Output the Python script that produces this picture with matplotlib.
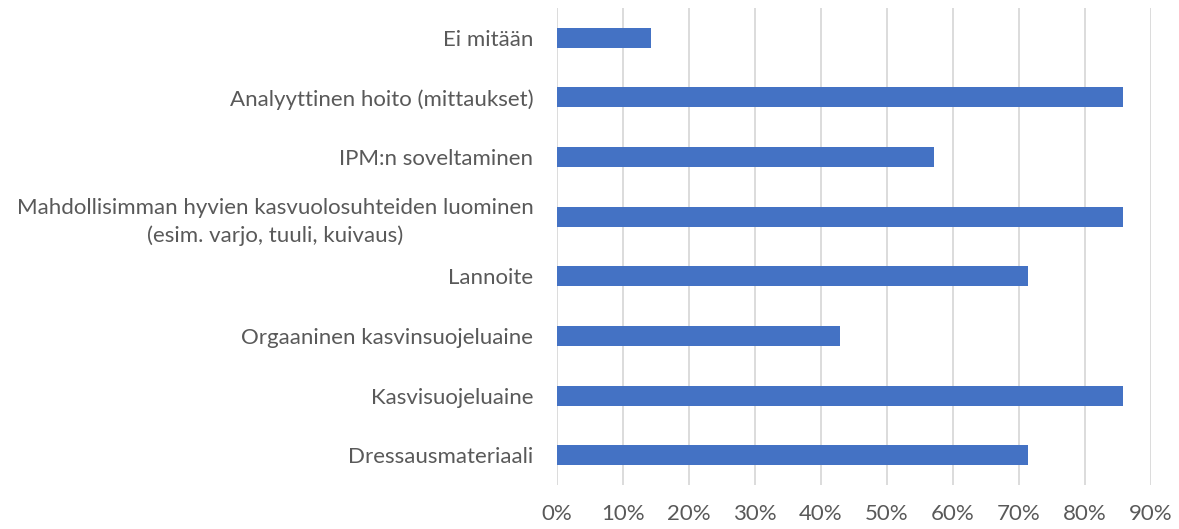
import matplotlib
matplotlib.use('Agg')
import matplotlib.pyplot as plt
from matplotlib.ticker import PercentFormatter

categories = [
    'Ei mitään',
    'Analyyttinen hoito (mittaukset)',
    'IPM:n soveltaminen',
    'Mahdollisimman hyvien kasvuolosuhteiden luominen\n(esim. varjo, tuuli, kuivaus)',
    'Lannoite',
    'Orgaaninen kasvinsuojeluaine',
    'Kasvisuojeluaine',
    'Dressausmateriaali',
]
values = [0.1429, 0.8571, 0.5714, 0.8571, 0.7143, 0.4286, 0.8571, 0.7143]
xticks = [0, 0.1, 0.2, 0.3, 0.4, 0.5, 0.6, 0.7, 0.8, 0.9]

plt.rcParams['font.family'] = ['Lato', 'DejaVu Sans']

fig = plt.figure(figsize=(11.79, 5.29), dpi=100)
ax = fig.add_axes([557 / 1179, 1 - 485 / 529, 594 / 1179, 477 / 529])

ypos = list(range(len(categories)))
ax.barh(ypos, values, height=0.335, color='#4472C4', zorder=3)

ax.set_xlim(0, 0.9)
ax.set_ylim(len(categories) - 0.5, -0.5)
ax.set_xticks(xticks)
ax.xaxis.set_major_formatter(PercentFormatter(1.0, decimals=0))
ax.set_yticks(ypos)
ax.set_yticklabels(categories, multialignment='center', linespacing=1.4)

ax.grid(axis='x', color='#D9D9D9', linewidth=1.3, zorder=0)
for s in ax.spines.values():
    s.set_visible(False)
ax.tick_params(axis='both', length=0, labelsize=16, labelcolor='#595959')
ax.tick_params(axis='x', pad=14)
ax.tick_params(axis='y', pad=17)

fig.savefig('out.png', dpi=100)
